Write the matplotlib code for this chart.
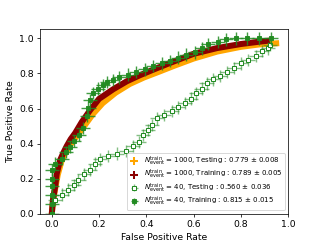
import numpy as np
import matplotlib
matplotlib.use("Agg")
import matplotlib.pyplot as plt
from matplotlib.lines import Line2D

# N_event^train = 1000, testing (orange band)
fpr_1000_test = [0, 0.005, 0.014, 0.025, 0.04, 0.055, 0.07, 0.09, 0.11, 0.14, 0.175,
                 0.215, 0.27, 0.33, 0.39, 0.45, 0.52, 0.6, 0.7, 0.8, 0.88, 0.95]
tpr_1000_test = [0, 0.07, 0.14, 0.22, 0.295, 0.34, 0.375, 0.415, 0.45, 0.505, 0.57,
                 0.63, 0.69, 0.74, 0.777, 0.808, 0.845, 0.885, 0.925, 0.952, 0.966, 0.972]

# N_event^train = 1000, training (dark red band)
fpr_1000_train = [0, 0.005, 0.014, 0.021, 0.035, 0.05, 0.063, 0.08, 0.099, 0.127, 0.162,
                  0.2, 0.26, 0.317, 0.373, 0.43, 0.5, 0.6, 0.7, 0.8, 0.87, 0.91]
tpr_1000_train = [0, 0.08, 0.152, 0.229, 0.305, 0.35, 0.385, 0.425, 0.46, 0.523, 0.59,
                  0.655, 0.71, 0.755, 0.79, 0.822, 0.86, 0.912, 0.945, 0.968, 0.98, 0.986]

# N_event^train = 40, testing (open squares)
fpr_40_test = [0.0, 0.014, 0.042, 0.07, 0.094, 0.113, 0.137, 0.162, 0.183, 0.204, 0.239,
               0.275, 0.314, 0.342, 0.37, 0.387, 0.408, 0.423, 0.444, 0.475, 0.507,
               0.535, 0.564, 0.588, 0.61, 0.634, 0.655, 0.683, 0.712, 0.743, 0.771,
               0.799, 0.831, 0.864, 0.888, 0.916, 0.923]
tpr_40_test = [0.0, 0.076, 0.109, 0.137, 0.162, 0.19, 0.225, 0.251, 0.286, 0.309, 0.327,
               0.343, 0.358, 0.386, 0.409, 0.447, 0.476, 0.505, 0.543, 0.561, 0.585,
               0.606, 0.632, 0.657, 0.686, 0.714, 0.743, 0.766, 0.785, 0.809, 0.832,
               0.857, 0.876, 0.899, 0.929, 0.943, 0.962]
xerr_40_test = 0.03
yerr_40_test = 0.035

# N_event^train = 40, training (filled squares)
fpr_40_train = [0, 0, 0, 0, 0, 0, 0.014, 0.042, 0.059, 0.077, 0.094, 0.115, 0.131,
                0.151, 0.155, 0.162, 0.173, 0.197, 0.218, 0.235, 0.258, 0.286, 0.321,
                0.356, 0.394, 0.427, 0.465, 0.5, 0.535, 0.568, 0.606, 0.637, 0.662,
                0.704, 0.736, 0.779, 0.827, 0.877, 0.927]
tpr_40_train = [0, 0.053, 0.104, 0.156, 0.2, 0.25, 0.286, 0.31, 0.352, 0.38, 0.415,
                0.447, 0.49, 0.56, 0.605, 0.647, 0.689, 0.714, 0.733, 0.752, 0.762,
                0.777, 0.794, 0.81, 0.823, 0.843, 0.857, 0.872, 0.891, 0.908, 0.92,
                0.943, 0.967, 0.981, 0.994, 1.0, 1.0, 1.0, 1.0]
xerr_40_train = 0.03
yerr_40_train = 0.035

labels = [
    r"$N^{\rm train}_{\rm event}$ = 1000, Testing : 0.779 $\pm$ 0.008",
    r"$N^{\rm train}_{\rm event}$ = 1000, Training : 0.789 $\pm$ 0.005",
    r"$N^{\rm train}_{\rm event}$ = 40, Testing : 0.560 $\pm$ 0.036",
    r"$N^{\rm train}_{\rm event}$ = 40, Training : 0.815 $\pm$ 0.015",
]

green = "forestgreen"
dpi = 200 / 3

fig, ax = plt.subplots(figsize=(4.8, 3.6), dpi=dpi)

ax.plot(fpr_1000_test, tpr_1000_test, color="orange", lw=6.5, zorder=2)
ax.plot(fpr_1000_train, tpr_1000_train, color="darkred", lw=6.5, zorder=3)

h3 = ax.errorbar(fpr_40_test, tpr_40_test, xerr=xerr_40_test, yerr=yerr_40_test,
                 fmt="s", ms=4.6, mfc="white", mec=green, mew=1.1,
                 ecolor=(0.13, 0.55, 0.13, 0.55), elinewidth=1.5, zorder=4)
h4 = ax.errorbar(fpr_40_train, tpr_40_train, xerr=xerr_40_train, yerr=yerr_40_train,
                 fmt="s", ms=4.8, color=green, ecolor=(0.13, 0.55, 0.13, 0.85),
                 elinewidth=1.5, zorder=5)

h1 = Line2D([], [], ls="", marker="+", ms=8, mew=2.2, color="orange")
h2 = Line2D([], [], ls="", marker="+", ms=8, mew=2.2, color="darkred")

ax.legend([h1, h2, h3, h4], labels, loc="lower right", fontsize=7.5,
          labelspacing=0.0, borderpad=0.3, handlelength=1.5, handletextpad=0.6)

ax.set_xlim(-0.05, 1.0)
ax.set_ylim(0, 1.055)
ax.set_xticks(np.arange(0, 1.01, 0.2))
ax.set_yticks(np.arange(0, 1.01, 0.2))
ax.set_xlabel("False Positive Rate")
ax.set_ylabel("True Positive Rate")

fig.savefig("out.png", dpi=dpi)
